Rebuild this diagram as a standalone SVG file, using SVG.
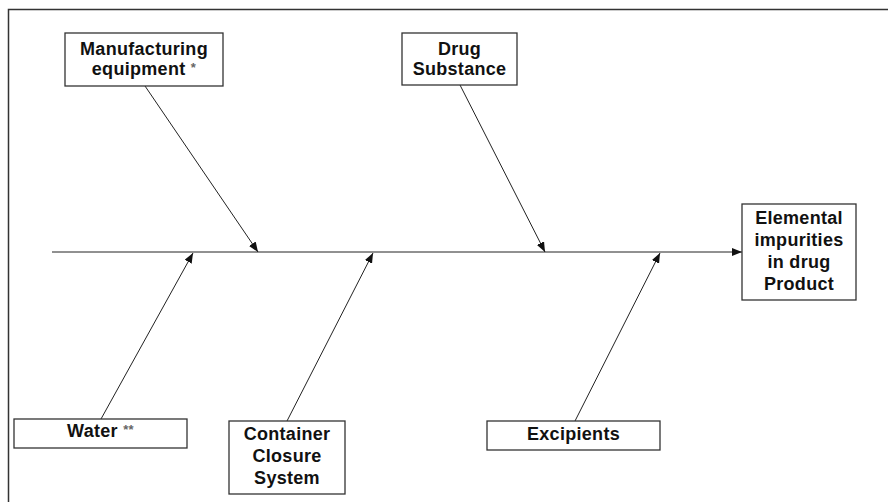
<svg xmlns="http://www.w3.org/2000/svg" width="888" height="502" viewBox="0 0 888 502">
<style>
.box{fill:#fff;stroke:#333;stroke-width:1.3}
.t{font-family:"Liberation Sans",Arial,sans-serif;font-weight:bold;font-size:18px;letter-spacing:0.3px;fill:#111;text-anchor:middle}
.ast{font-size:13px;fill:#666}
.ln{stroke:#222;stroke-width:1;fill:none}
.frame{stroke:#333;stroke-width:1.5;fill:none}
</style>
<defs>
<marker id="ah" viewBox="0 0 10 8" refX="10" refY="4" markerWidth="10" markerHeight="8" markerUnits="userSpaceOnUse" orient="auto">
<path d="M0,0 L10,4 L0,8 Z" fill="#111"/>
</marker>
</defs>
<rect width="888" height="502" fill="#fff"/>
<path class="frame" d="M8.5,510 V9.5 H900"/>
<g id="connectors">
<line class="ln" x1="52" y1="252" x2="742" y2="252" marker-end="url(#ah)"/>
<line class="ln" x1="145" y1="86" x2="258" y2="252" marker-end="url(#ah)"/>
<line class="ln" x1="460" y1="85" x2="545" y2="252" marker-end="url(#ah)"/>
<line class="ln" x1="101" y1="419" x2="193" y2="253" marker-end="url(#ah)"/>
<line class="ln" x1="287" y1="421" x2="373" y2="253" marker-end="url(#ah)"/>
<line class="ln" x1="575" y1="421" x2="660" y2="253" marker-end="url(#ah)"/>
</g>
<g id="manufacturing">
<rect class="box" x="65" y="33" width="158" height="53"/>
<text class="t" x="144" y="55">Manufacturing</text>
<text class="t" x="144" y="75">equipment <tspan class="ast" dy="-3">*</tspan></text>
</g>
<g id="drug-substance">
<rect class="box" x="402" y="33" width="115" height="52"/>
<text class="t" x="459.5" y="55">Drug</text>
<text class="t" x="459.5" y="75">Substance</text>
</g>
<g id="elemental">
<rect class="box" x="742" y="204" width="114" height="96"/>
<text class="t" x="799" y="224">Elemental</text>
<text class="t" x="799" y="246">impurities</text>
<text class="t" x="799" y="268">in drug</text>
<text class="t" x="799" y="290">Product</text>
</g>
<g id="water">
<rect class="box" x="14" y="419" width="173" height="29"/>
<text class="t" x="100.5" y="437">Water <tspan class="ast" dy="-3">**</tspan></text>
</g>
<g id="container">
<rect class="box" x="229" y="421" width="116" height="73"/>
<text class="t" x="287" y="440">Container</text>
<text class="t" x="287" y="462">Closure</text>
<text class="t" x="287" y="484">System</text>
</g>
<g id="excipients">
<rect class="box" x="487" y="421" width="173" height="29"/>
<text class="t" x="573.5" y="440">Excipients</text>
</g>
</svg>
